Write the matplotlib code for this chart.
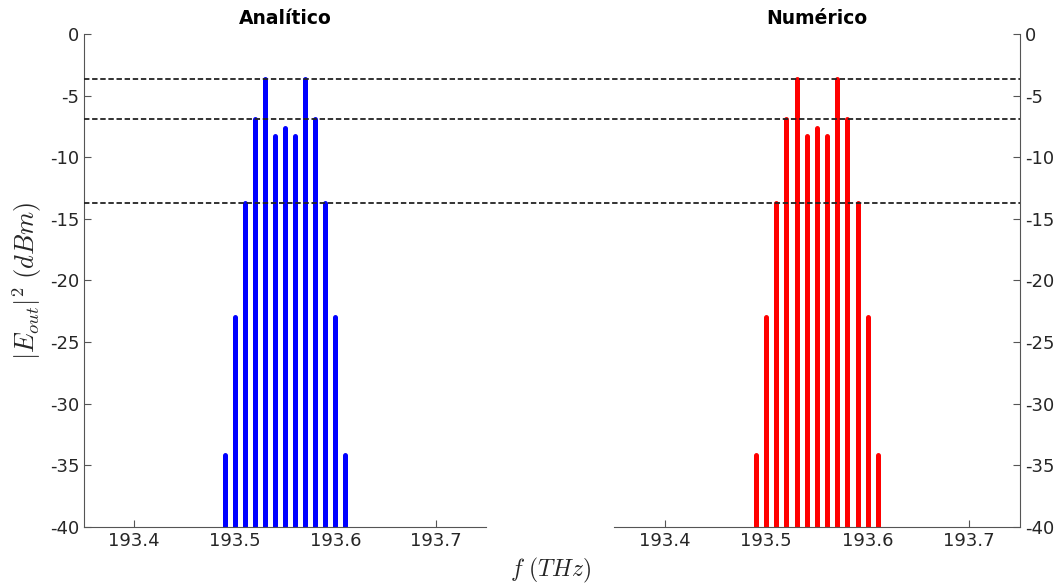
import numpy as np
import matplotlib
matplotlib.use('Agg')
import matplotlib.pyplot as plt

# data
freqs = [193.49, 193.50, 193.51, 193.52, 193.53, 193.54, 193.55,
         193.56, 193.57, 193.58, 193.59, 193.60, 193.61]
pot_analitico = [-34.2, -23.0, -13.7, -6.9, -3.65, -8.25, -7.65,
                 -8.25, -3.65, -6.9, -13.7, -23.0, -34.2]
pot_numerico = [-34.2, -23.0, -13.7, -6.9, -3.65, -8.25, -7.65,
                -8.25, -3.65, -6.9, -13.7, -23.0, -34.2]
niveis = [-3.65, -6.9, -13.7]
xticks = [193.4, 193.5, 193.6, 193.7]
yticks = [0, -5, -10, -15, -20, -25, -30, -35, -40]

plt.rcParams['font.family'] = 'DejaVu Sans'
plt.rcParams['mathtext.fontset'] = 'cm'
txt = '#262626'
spine = '#555555'

fig = plt.figure(figsize=(10.58, 5.83), dpi=100)
ax1 = fig.add_axes([0.0794, 0.0961, 0.380, 0.8456])
ax2 = fig.add_axes([0.5803, 0.0961, 0.3837, 0.8456])

def base(ax, lado):
    ax.set_xlim(193.35, 193.75)
    ax.set_ylim(-40, 0)
    ax.set_xticks(xticks)
    ax.set_xticklabels([f'{t:.1f}' for t in xticks])
    ax.set_yticks(yticks)
    ax.set_yticklabels([str(t) for t in yticks])
    ax.tick_params(direction='in', labelsize=13, colors=spine, labelcolor=txt, length=5)
    for s in ['top', 'left', 'right']:
        ax.spines[s].set_visible(False)
    ax.spines['bottom'].set_color(spine)
    ax.spines[lado].set_visible(True)
    ax.spines[lado].set_color(spine)
    if lado == 'right':
        ax.yaxis.tick_right()

base(ax1, 'left')
base(ax2, 'right')

l1 = ax1.vlines(freqs, -40, pot_analitico, colors='#0000ff', lw=3.6)
l2 = ax2.vlines(freqs, -40, pot_numerico, colors='#ff0000', lw=3.6)
l1.set_capstyle('round')
l2.set_capstyle('round')

ax1.set_title('Analítico', fontsize=13.5, fontweight='bold', color='black', pad=7)
ax2.set_title('Numérico', fontsize=13.5, fontweight='bold', color='black', pad=7)

ax1.set_ylabel(r'$|E_{out}|^2\ (dBm)$', fontsize=19, color=txt, labelpad=4)
fig.text(0.52, 0.022, r'$f\ (THz)$', fontsize=17, color=txt, ha='center', va='center')

# linhas tracejadas que cruzam os dois paineis
ov = fig.add_axes([0.0794, 0.0961, 0.5803 + 0.3837 - 0.0794, 0.8456])
ov.set_ylim(-40, 0)
ov.axis('off')
ov.patch.set_alpha(0)
for n in niveis:
    ov.axhline(n, color='#222222', lw=1.3, ls=(0, (3, 1.5)))

plt.savefig('out.png', dpi=100)
